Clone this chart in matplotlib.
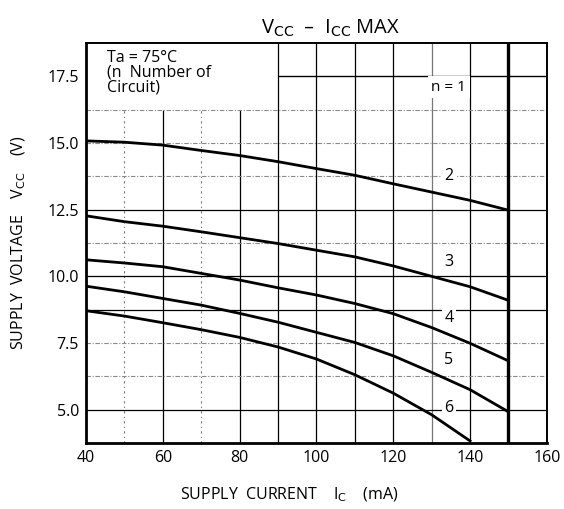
import matplotlib
matplotlib.use("Agg")
import matplotlib.pyplot as plt

plt.rcParams["font.family"] = ["Open Sans", "DejaVu Sans"]

# Vcc vs Icc max curves (Ta = 75 C)
ic_2 = [40, 50, 60, 70, 80, 90, 100, 110, 120, 130, 140, 150]
vcc_2 = [15.08, 15.03, 14.92, 14.72, 14.53, 14.30, 14.04, 13.79, 13.47, 13.16, 12.85, 12.48]

ic_3 = [40, 50, 60, 70, 80, 90, 100, 110, 120, 130, 140, 150]
vcc_3 = [12.27, 12.05, 11.88, 11.67, 11.45, 11.23, 10.98, 10.73, 10.39, 10.00, 9.61, 9.10]

ic_4 = [40, 50, 60, 70, 80, 90, 100, 110, 120, 130, 140, 150]
vcc_4 = [10.62, 10.50, 10.36, 10.11, 9.86, 9.57, 9.30, 8.98, 8.60, 8.08, 7.49, 6.83]

ic_5 = [40, 50, 60, 70, 80, 90, 100, 110, 120, 130, 140, 150]
vcc_5 = [9.63, 9.42, 9.17, 8.92, 8.61, 8.28, 7.90, 7.52, 7.02, 6.40, 5.75, 4.92]

ic_6 = [40, 50, 60, 70, 80, 90, 100, 110, 120, 130, 140.3]
vcc_6 = [8.71, 8.51, 8.26, 8.00, 7.71, 7.35, 6.90, 6.31, 5.62, 4.81, 3.80]

curves = [(ic_2, vcc_2), (ic_3, vcc_3), (ic_4, vcc_4), (ic_5, vcc_5), (ic_6, vcc_6)]
curve_labels = ["2", "3", "4", "5", "6"]
label_v = [13.75, 10.55, 8.45, 6.85, 5.05]

x_ticks = [40, 60, 80, 100, 120, 140, 160]
y_ticks = [5.0, 7.5, 10.0, 12.5, 15.0, 17.5]
ic_limit = 150
n1_level = 17.5

fig = plt.figure(figsize=(5.64, 5.09), dpi=100)
ax = fig.add_axes([0.1525, 0.1297, 0.817, 0.7858])
ax.set_xlim(40, 160)
ax.set_ylim(3.75, 18.75)

# grid: mix of solid and light dash-dot lines like the scanned sheet
solid = dict(color="black", lw=0.9, zorder=1)
dashed = dict(color="#8a8a8a", lw=0.8, ls=(0, (4, 1.5, 1, 1.5)), zorder=1)
for x in [60, 80, 90, 100, 110, 120, 140]:
    ax.vlines(x, 3.75, 16.25 if x < 90 else 18.75, **solid)
for x in [50, 70]:
    ax.vlines(x, 3.75, 16.25, color="#777777", lw=0.8, ls=(0, (2, 3, 1, 3)), zorder=1)
ax.vlines(130, 3.75, 18.75, color="#777777", lw=0.9, zorder=1)
for y in [5.0, 8.75, 10.0, 12.5]:
    ax.axhline(y, **solid)
for y in [6.25, 7.5, 11.25, 13.75, 15.0, 16.25]:
    ax.axhline(y, **dashed)
ax.hlines(n1_level, 90, 160, color="black", lw=1.0, zorder=1)

# current limit
ax.axvline(ic_limit, color="black", lw=2.4, zorder=3)

for (xs, ys), lab, ly in zip(curves, curve_labels, label_v):
    ax.plot(xs, ys, color="black", lw=2.0, zorder=4, solid_capstyle="butt")
    ax.text(134.5, ly, lab, ha="center", va="center", fontsize=11.5,
            bbox=dict(facecolor="white", edgecolor="none", pad=1.5), zorder=5)

ax.text(134.5, 17.1, "n = 1", ha="center", va="center", fontsize=11,
        bbox=dict(facecolor="white", edgecolor="none", pad=2.5), zorder=5)

ax.text(45.5, 18.5, "Ta = 75°C\n(n  Number of\nCircuit)", ha="left", va="top",
        fontsize=11.5, linespacing=0.9, zorder=5)

ax.set_xticks(x_ticks)
ax.set_yticks(y_ticks)
ax.set_yticklabels([f"{v:.1f}" for v in y_ticks])
ax.tick_params(length=0, labelsize=11.5, pad=5)

for side in ["left", "bottom"]:
    ax.spines[side].set_linewidth(2.0)
for side in ["top", "right"]:
    ax.spines[side].set_linewidth(1.4)

ax.set_xlabel("SUPPLY  CURRENT    I$_{\\mathrm{C}}$    (mA)", fontsize=11.5,
              labelpad=14, x=0.44)
ax.set_ylabel("SUPPLY  VOLTAGE    V$_{\\mathrm{CC}}$    (V)", fontsize=11.5,
              labelpad=14)
ax.set_title("V$_{\\mathrm{CC}}$  –  I$_{\\mathrm{CC}}$ MAX", fontsize=14.5, pad=7, x=0.53)

fig.savefig("out.png", dpi=100)
